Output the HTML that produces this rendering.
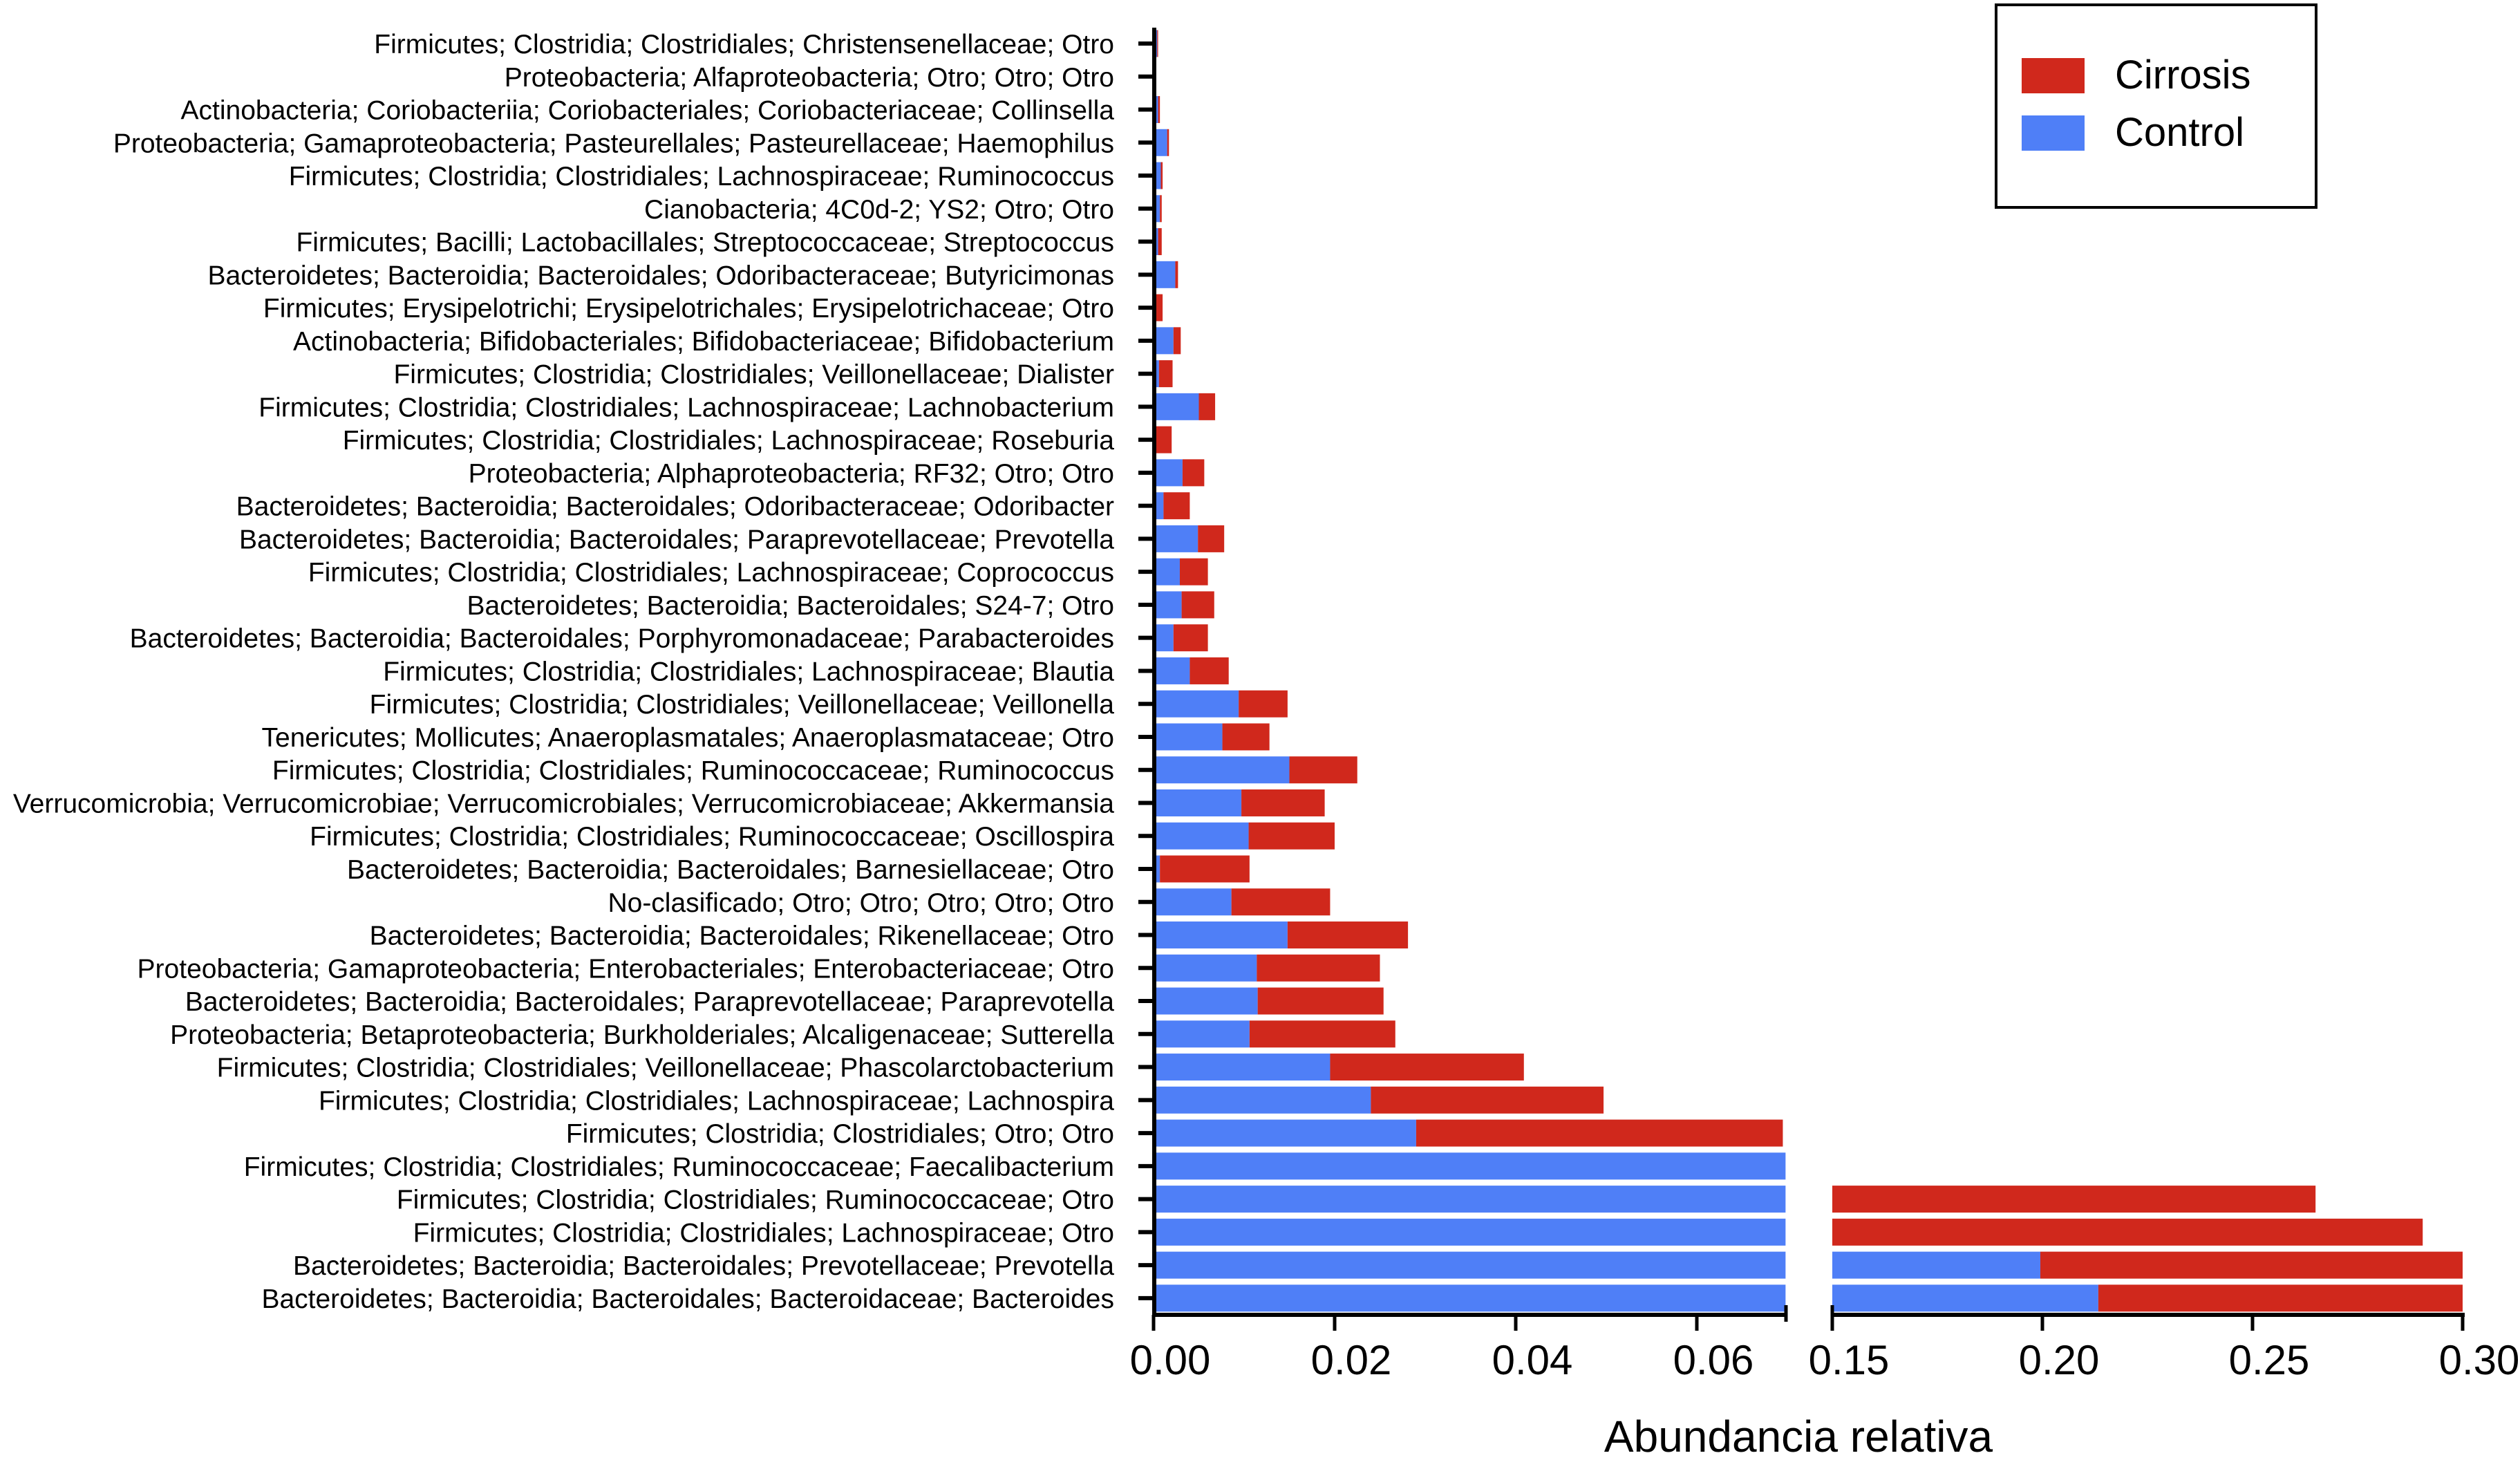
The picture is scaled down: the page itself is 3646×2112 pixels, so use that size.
<!DOCTYPE html>
<html><head><meta charset="utf-8"><style>
html,body{margin:0;padding:0;background:#fff;}
svg{display:block;font-family:"Liberation Sans",Helvetica,Arial,sans-serif;}
</style></head><body>
<svg id="chart" width="3646" height="2112" viewBox="0 0 3646 2112" xmlns="http://www.w3.org/2000/svg">
<g id="bars"></g>
<g id="axes"></g>
<g id="legend">
  <rect x="2888" y="7" width="463" height="293" fill="#fff" stroke="#000" stroke-width="4"/>
  <rect x="2925" y="84" width="91" height="51" fill="#D0281C"/>
  <text x="3060" y="128" font-size="58">Cirrosis</text>
  <rect x="2925" y="167" width="91" height="51" fill="#4F7FF7"/>
  <text x="3060" y="211" font-size="58">Control</text>
</g>
<text x="2602" y="2100" font-size="64" text-anchor="middle">Abundancia relativa</text>
</svg>
<script>
const categories = [
"Firmicutes; Clostridia; Clostridiales; Christensenellaceae; Otro",
"Proteobacteria; Alfaproteobacteria; Otro; Otro; Otro",
"Actinobacteria; Coriobacteriia; Coriobacteriales; Coriobacteriaceae; Collinsella",
"Proteobacteria; Gamaproteobacteria; Pasteurellales; Pasteurellaceae; Haemophilus",
"Firmicutes; Clostridia; Clostridiales; Lachnospiraceae; Ruminococcus",
"Cianobacteria; 4C0d-2; YS2; Otro; Otro",
"Firmicutes; Bacilli; Lactobacillales; Streptococcaceae; Streptococcus",
"Bacteroidetes; Bacteroidia; Bacteroidales; Odoribacteraceae; Butyricimonas",
"Firmicutes; Erysipelotrichi; Erysipelotrichales; Erysipelotrichaceae; Otro",
"Actinobacteria; Bifidobacteriales; Bifidobacteriaceae; Bifidobacterium",
"Firmicutes; Clostridia; Clostridiales; Veillonellaceae; Dialister",
"Firmicutes; Clostridia; Clostridiales; Lachnospiraceae; Lachnobacterium",
"Firmicutes; Clostridia; Clostridiales; Lachnospiraceae; Roseburia",
"Proteobacteria; Alphaproteobacteria; RF32; Otro; Otro",
"Bacteroidetes; Bacteroidia; Bacteroidales; Odoribacteraceae; Odoribacter",
"Bacteroidetes; Bacteroidia; Bacteroidales; Paraprevotellaceae; Prevotella",
"Firmicutes; Clostridia; Clostridiales; Lachnospiraceae; Coprococcus",
"Bacteroidetes; Bacteroidia; Bacteroidales; S24-7; Otro",
"Bacteroidetes; Bacteroidia; Bacteroidales; Porphyromonadaceae; Parabacteroides",
"Firmicutes; Clostridia; Clostridiales; Lachnospiraceae; Blautia",
"Firmicutes; Clostridia; Clostridiales; Veillonellaceae; Veillonella",
"Tenericutes; Mollicutes; Anaeroplasmatales; Anaeroplasmataceae; Otro",
"Firmicutes; Clostridia; Clostridiales; Ruminococcaceae; Ruminococcus",
"Verrucomicrobia; Verrucomicrobiae; Verrucomicrobiales; Verrucomicrobiaceae; Akkermansia",
"Firmicutes; Clostridia; Clostridiales; Ruminococcaceae; Oscillospira",
"Bacteroidetes; Bacteroidia; Bacteroidales; Barnesiellaceae; Otro",
"No-clasificado; Otro; Otro; Otro; Otro; Otro",
"Bacteroidetes; Bacteroidia; Bacteroidales; Rikenellaceae; Otro",
"Proteobacteria; Gamaproteobacteria; Enterobacteriales; Enterobacteriaceae; Otro",
"Bacteroidetes; Bacteroidia; Bacteroidales; Paraprevotellaceae; Paraprevotella",
"Proteobacteria; Betaproteobacteria; Burkholderiales; Alcaligenaceae; Sutterella",
"Firmicutes; Clostridia; Clostridiales; Veillonellaceae; Phascolarctobacterium",
"Firmicutes; Clostridia; Clostridiales; Lachnospiraceae; Lachnospira",
"Firmicutes; Clostridia; Clostridiales; Otro; Otro",
"Firmicutes; Clostridia; Clostridiales; Ruminococcaceae; Faecalibacterium",
"Firmicutes; Clostridia; Clostridiales; Ruminococcaceae; Otro",
"Firmicutes; Clostridia; Clostridiales; Lachnospiraceae; Otro",
"Bacteroidetes; Bacteroidia; Bacteroidales; Prevotellaceae; Prevotella",
"Bacteroidetes; Bacteroidia; Bacteroidales; Bacteroidaceae; Bacteroides"
];
const controlValues = [0.0004,0,0.0005,0.0015,0.0008,0.0007,0.0005,0.0024,0.0003,0.0022,0.0006,0.005,0.0002,0.0032,0.0011,0.0049,0.0029,0.0031,0.0022,0.004,0.0094,0.0076,0.015,0.0097,0.0105,0.0007,0.0086,0.0148,0.0114,0.0115,0.0106,0.0195,0.024,0.029,0.10,0.12,0.13,0.1995,0.2133];
const cirrosisValues = [0.0001,0.0003,0.0002,0.0002,0.0002,0.0002,0.0004,0.0003,0.0007,0.0008,0.0015,0.0018,0.0018,0.0024,0.0029,0.0029,0.0031,0.0036,0.0038,0.0043,0.0054,0.0052,0.0075,0.0092,0.0095,0.0099,0.0109,0.0133,0.0136,0.0139,0.0161,0.0214,0.0257,0.0405,0.03,0.145,0.1605,0.12,0.14];
const leftTicks = ["0.00","0.02","0.04","0.06"];
const rightTicks = ["0.15","0.20","0.25","0.30"];

const NS="http://www.w3.org/2000/svg";
const L0=1669, LMAX=0.0698, LPX=131/0.01;
const R0=2651, RMIN=0.15, RMAX=0.30, RPX=304/0.05;
const Y0=63, PITCH=47.76, BH=39, AXY=1902;
function xl(v){return L0+Math.min(v,LMAX)*LPX;}
function xr(v){return R0+(Math.min(Math.max(v,RMIN),RMAX)-RMIN)*RPX;}
function yc(i){return Y0+i*PITCH;}
function mk(tag,attrs,parent){const e=document.createElementNS(NS,tag);for(const k in attrs)e.setAttribute(k,attrs[k]);parent.appendChild(e);return e;}
const bars=document.getElementById('bars'), axes=document.getElementById('axes');
const BLUE="#4F7FF7", RED="#D0281C";
function seg(a,b,col,name,i){
  if(a<LMAX){const x1=xl(a),x2=xl(b);if(x2>x1){const r=mk('rect',{x:x1,y:yc(i)-BH/2,width:x2-x1,height:BH,fill:col},bars);
    
    }}
  if(b>RMIN){const x1=xr(a),x2=xr(b);if(x2>x1){const r=mk('rect',{x:x1,y:yc(i)-BH/2,width:x2-x1,height:BH,fill:col},bars);
    
    }}
}
categories.forEach((c,i)=>{
  const cv=controlValues[i], rv=cirrosisValues[i];
  seg(0,cv,BLUE,'control',i);
  seg(cv,cv+rv,RED,'cirrosis',i);
  const t=mk('text',{x:1612,y:yc(i)+14,'font-size':39,'text-anchor':'end'},axes);
  t.textContent=c;
  
  
  const tk=mk('line',{x1:1647,x2:1670,y1:yc(i),y2:yc(i),stroke:'#000','stroke-width':6},axes);
  
  
});
const ya=mk('line',{x1:1670,x2:1670,y1:40,y2:1905,stroke:'#000','stroke-width':6},axes);


const xa1=mk('line',{x1:1667,x2:2586,y1:AXY,y2:AXY,stroke:'#000','stroke-width':6},axes);


const xa2=mk('line',{x1:2649,x2:3566,y1:AXY,y2:AXY,stroke:'#000','stroke-width':6},axes);


[[2584,1888,1912],[2651,1888,1912]].forEach(b=>{
  const l=mk('line',{x1:b[0],x2:b[0],y1:b[1],y2:b[2],stroke:'#000','stroke-width':5},axes);
  
  
});
function tick(x,label){
  const l=mk('line',{x1:x,x2:x,y1:AXY,y2:1925,stroke:'#000','stroke-width':5},axes);
  
  
  const t=mk('text',{x:x+24,y:1988,'font-size':60,'text-anchor':'middle'},axes);
  t.textContent=label;
  
  
}
leftTicks.forEach(s=>tick(xl(parseFloat(s)),s));
rightTicks.forEach(s=>tick(xr(parseFloat(s)),s));
</script>
</body></html>
